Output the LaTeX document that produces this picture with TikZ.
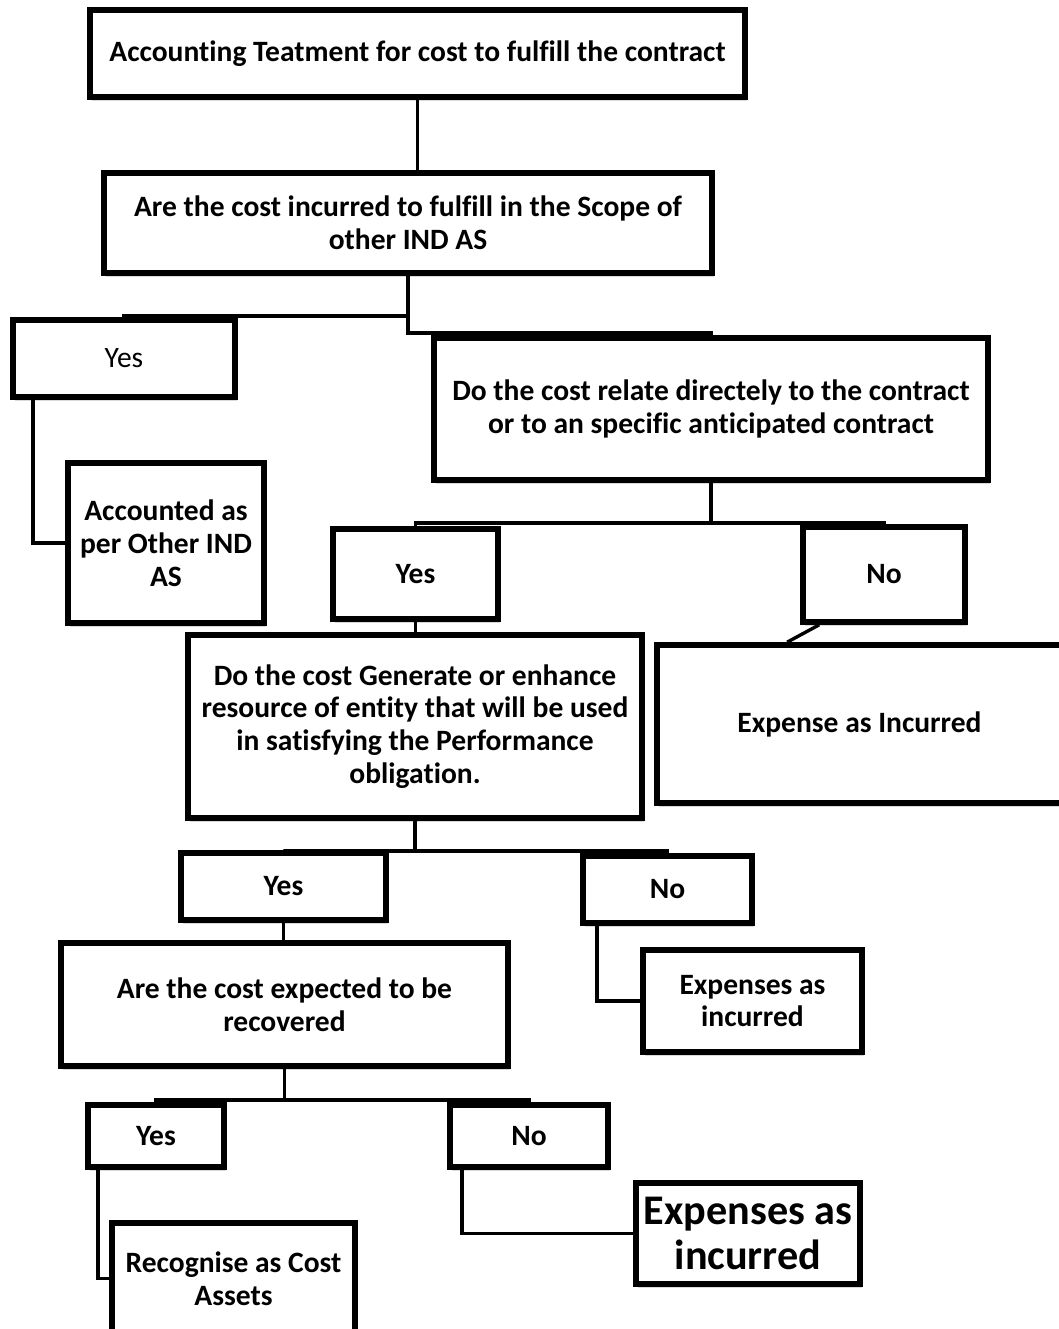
\documentclass[tikz,border=0pt]{standalone}
\usepackage{fontspec}
\setmainfont{Carlito}[Ligatures=NoCommon]
\usetikzlibrary{shadows}
\begin{document}
\begin{tikzpicture}[x=0.025cm,y=-0.025cm,
  box/.style={draw,line width=4pt,fill=white,align=center,inner sep=0pt,
    drop shadow={opacity=0.3,shadow xshift=1.5pt,shadow yshift=-2.5pt},
    font=\fontsize{21}{23.4}\selectfont\bfseries},
  link/.style={line width=2.4pt}]
  \useasboundingbox (0,0) rectangle (1059,1329);
  \node[box,minimum width=16.375cm,minimum height=2.175cm] (top) at (417.5,53.5) {Accounting Teatment for cost to fulfill the contract};
  \node[box,minimum width=15.2cm,minimum height=2.5cm] (scope) at (408,223) {Are the cost incurred to fulfill in the Scope of\\other IND AS};
  \node[box,minimum width=5.55cm,minimum height=1.925cm,font=\fontsize{21}{23.4}\selectfont] (yesA) at (124,358.5) {Yes};
  \node[box,minimum width=4.9cm,minimum height=4cm] (other) at (166,543) {Accounted as\\per Other IND\\AS};
  \node[box,minimum width=13.85cm,minimum height=3.55cm] (relate) at (711,409) {Do the cost relate directely to the contract\\or to an specific anticipated contract};
  \node[box,minimum width=4.125cm,minimum height=2.25cm] (yesB) at (415.5,574) {Yes};
  \node[box,minimum width=4.05cm,minimum height=2.375cm] (noB) at (884,574.5) {No};
  \node[box,minimum width=11.35cm,minimum height=4.575cm] (enhance) at (415,726.5) {Do the cost Generate or enhance\\resource of entity that will be used\\in satisfying the Performance\\obligation.};
  \node[box,minimum width=10.325cm,minimum height=3.95cm] (expA) at (863.5,724) {\hspace*{-0.1cm}Expense as Incurred\hspace*{0.1cm}};
  \node[box,minimum width=5.125cm,minimum height=1.675cm] (yesC) at (283.5,886.5) {Yes};
  \node[box,minimum width=4.225cm,minimum height=1.675cm] (noC) at (667.5,889.5) {No};
  \node[box,minimum width=5.475cm,minimum height=2.55cm] (expB) at (752.5,1001) {Expenses as\\incurred};
  \node[box,minimum width=11.175cm,minimum height=3.075cm] (recover) at (284.5,1004.5) {Are the cost expected to be\\recovered};
  \node[box,minimum width=3.4cm,minimum height=1.55cm] (yesD) at (156,1136) {Yes};
  \node[box,minimum width=3.95cm,minimum height=1.55cm] (noD) at (529,1136) {No};
  \node[box,minimum width=5.6cm,minimum height=2.525cm,font=\fontsize{30}{32}\selectfont\bfseries] (expC) at (748,1233.5) {Expenses as\\incurred};
  \node[box,minimum width=6.075cm,minimum height=2.775cm] (asset) at (233.5,1278.5) {Recognise as Cost\\Assets};
  \draw[link] (top.south) -- (top.south |- scope.north);
  \draw[link] (scope.south) -- ++(0,57) -| (relate.north);
  \draw[link] (scope.south) ++(0,40) -| (yesA.north);
  \draw[link] ([xshift=0.575cm]yesA.south west) |- (other.west);
  \draw[link] (relate.south) -- ++(0,40) coordinate (relB) -| (yesB.north);
  \draw[link] (relB) -| (noB.north);
  \draw[link] ([xshift=0.475cm]noB.south west) -- ([xshift=3.325cm]expA.north west);
  \draw[link] (yesB.south) -- (yesB.south |- enhance.north);
  \draw[link] (enhance.south) -- ++(0,30) coordinate (enhB) -| (yesC.north);
  \draw[link] (enhB) -| (noC.north);
  \draw[link] (yesC.south) -- (yesC.south |- recover.north);
  \draw[link] ([xshift=0.425cm]noC.south west) |- (expB.west);
  \draw[link] (recover.south) -- ++(0,31) coordinate (recB) -| (yesD.north);
  \draw[link] (recB) -| (noD.north);
  \draw[link] ([xshift=0.325cm]yesD.south west) |- (asset.west);
  \draw[link] ([xshift=0.375cm]noD.south west) |- (expC.west);
\end{tikzpicture}
\end{document}
